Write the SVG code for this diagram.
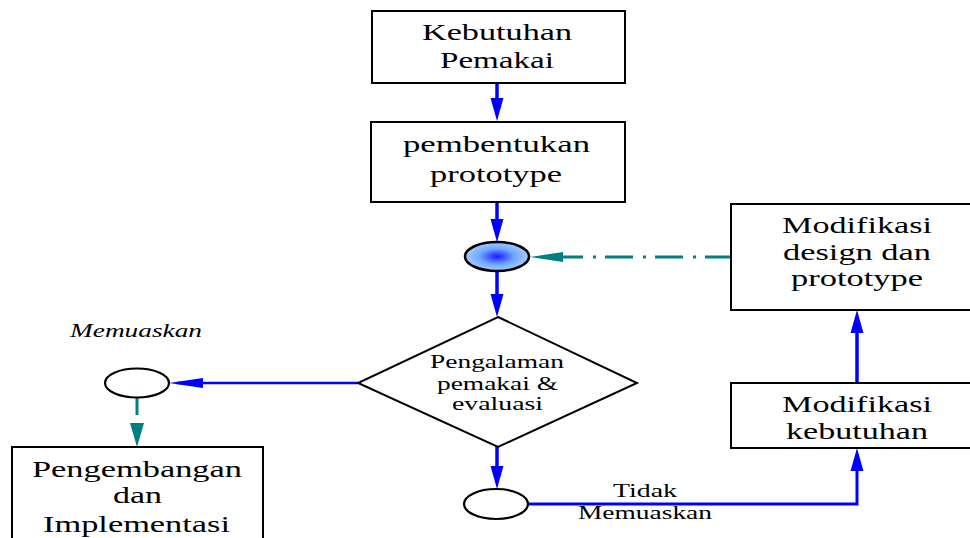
<svg xmlns="http://www.w3.org/2000/svg" width="970" height="538" viewBox="0 0 970 538">
<defs>
<style>
.box{fill:#fff;stroke:#000;stroke-width:2}
.t{font-family:"Liberation Serif","Times New Roman",serif;fill:#000;font-size:22.5px}
.s{font-size:19px}
.i{font-style:italic}
.bl{fill:none;stroke:#0000ff}
.tl{fill:none;stroke:#008080;stroke-width:3}
</style>
<radialGradient id="g" cx="50%" cy="50%" r="50%">
<stop offset="0" stop-color="#1a1aff"/>
<stop offset="0.55" stop-color="#6fa8ff"/>
<stop offset="1" stop-color="#a8ccff"/>
</radialGradient>
<marker id="bh" markerUnits="userSpaceOnUse" markerWidth="23" markerHeight="13" refX="15" refY="6.5" orient="auto" overflow="visible">
<path d="M0,0 L23,6.5 L0,13 z" fill="#0000ff"/>
</marker>
<marker id="bl" markerUnits="userSpaceOnUse" markerWidth="34" markerHeight="10" refX="26" refY="5" orient="auto" overflow="visible">
<path d="M0,0 L34,5 L0,10 z" fill="#0000ff"/>
</marker>
<marker id="tl" markerUnits="userSpaceOnUse" markerWidth="33" markerHeight="10" refX="25" refY="5" orient="auto" overflow="visible">
<path d="M0,0 L33,5 L0,10 z" fill="#008080"/>
</marker>
<marker id="th" markerUnits="userSpaceOnUse" markerWidth="24" markerHeight="14" refX="24" refY="7" orient="auto" overflow="visible">
<path d="M0,0 L24,7 L0,14 z" fill="#008080"/>
</marker>
</defs>

<g id="connectors">
<path class="bl" stroke-width="3.5" d="M497,83 V113" marker-end="url(#bh)"/>
<path class="bl" stroke-width="3.5" d="M497,202 V234" marker-end="url(#bh)"/>
<path class="bl" stroke-width="3.5" d="M497,271 V309" marker-end="url(#bh)"/>
<path class="bl" stroke-width="3.5" d="M497,447 V481" marker-end="url(#bh)"/>
<path class="bl" stroke-width="2.5" d="M358,383 H177" marker-end="url(#bl)"/>
<path class="tl" d="M137,398 V447" stroke-dasharray="17 100" marker-end="url(#th)"/>
<path class="tl" d="M733,257 H538" stroke-dasharray="28 9 3 10" marker-end="url(#tl)"/>
<path class="bl" stroke-width="3" d="M528,504 H857 V456" marker-end="url(#bh)"/>
<path class="bl" stroke-width="3.5" d="M857,383 V318" marker-end="url(#bh)"/>
</g>

<g id="kebutuhan-pemakai">
<rect class="box" x="372" y="11" width="253" height="72"/>
<text class="t" x="422" y="40" textLength="150" lengthAdjust="spacingAndGlyphs">Kebutuhan</text>
<text class="t" x="440" y="68" textLength="114" lengthAdjust="spacingAndGlyphs">Pemakai</text>
</g>

<g id="pembentukan-prototype">
<rect class="box" x="371" y="122" width="254" height="80"/>
<text class="t" x="403" y="152" textLength="187" lengthAdjust="spacingAndGlyphs">pembentukan</text>
<text class="t" x="430" y="182" textLength="132" lengthAdjust="spacingAndGlyphs">prototype</text>
</g>

<g id="junction">
<ellipse cx="497" cy="256.5" rx="32" ry="14.5" fill="url(#g)" stroke="#000" stroke-width="2.5"/>
</g>

<g id="pengalaman-evaluasi">
<polygon points="498,317 637,383 498,447 358,383" fill="#fff" stroke="#000" stroke-width="2"/>
<text class="t s" x="430" y="368" textLength="134" lengthAdjust="spacingAndGlyphs">Pengalaman</text>
<text class="t s" x="437" y="390" textLength="121" lengthAdjust="spacingAndGlyphs">pemakai &amp;</text>
<text class="t s" x="452" y="410" textLength="91" lengthAdjust="spacingAndGlyphs">evaluasi</text>
</g>

<g id="memuaskan">
<ellipse cx="137" cy="383" rx="32" ry="14.5" fill="#fff" stroke="#000" stroke-width="2.2"/>
<text class="t s i" x="70" y="337" textLength="132" lengthAdjust="spacingAndGlyphs">Memuaskan</text>
</g>

<g id="pengembangan">
<rect class="box" x="12" y="447" width="251" height="120"/>
<text class="t" x="32" y="477" textLength="210" lengthAdjust="spacingAndGlyphs">Pengembangan</text>
<text class="t" x="113" y="503" textLength="49" lengthAdjust="spacingAndGlyphs">dan</text>
<text class="t" x="43" y="532" textLength="187" lengthAdjust="spacingAndGlyphs">Implementasi</text>
</g>

<g id="tidak-memuaskan">
<ellipse cx="496" cy="504" rx="32" ry="15" fill="#fff" stroke="#000" stroke-width="2.2"/>
<text class="t s" x="613" y="497" textLength="64" lengthAdjust="spacingAndGlyphs">Tidak</text>
<text class="t s" x="578" y="519" textLength="134" lengthAdjust="spacingAndGlyphs">Memuaskan</text>
</g>

<g id="modifikasi-design">
<rect class="box" x="731" y="204" width="260" height="106"/>
<text class="t" x="782" y="233" textLength="150" lengthAdjust="spacingAndGlyphs">Modifikasi</text>
<text class="t" x="783" y="260" textLength="148" lengthAdjust="spacingAndGlyphs">design dan</text>
<text class="t" x="791" y="286" textLength="132" lengthAdjust="spacingAndGlyphs">prototype</text>
</g>

<g id="modifikasi-kebutuhan">
<rect class="box" x="731" y="383" width="260" height="65"/>
<text class="t" x="782" y="412" textLength="150" lengthAdjust="spacingAndGlyphs">Modifikasi</text>
<text class="t" x="786" y="439" textLength="142" lengthAdjust="spacingAndGlyphs">kebutuhan</text>
</g>
</svg>
